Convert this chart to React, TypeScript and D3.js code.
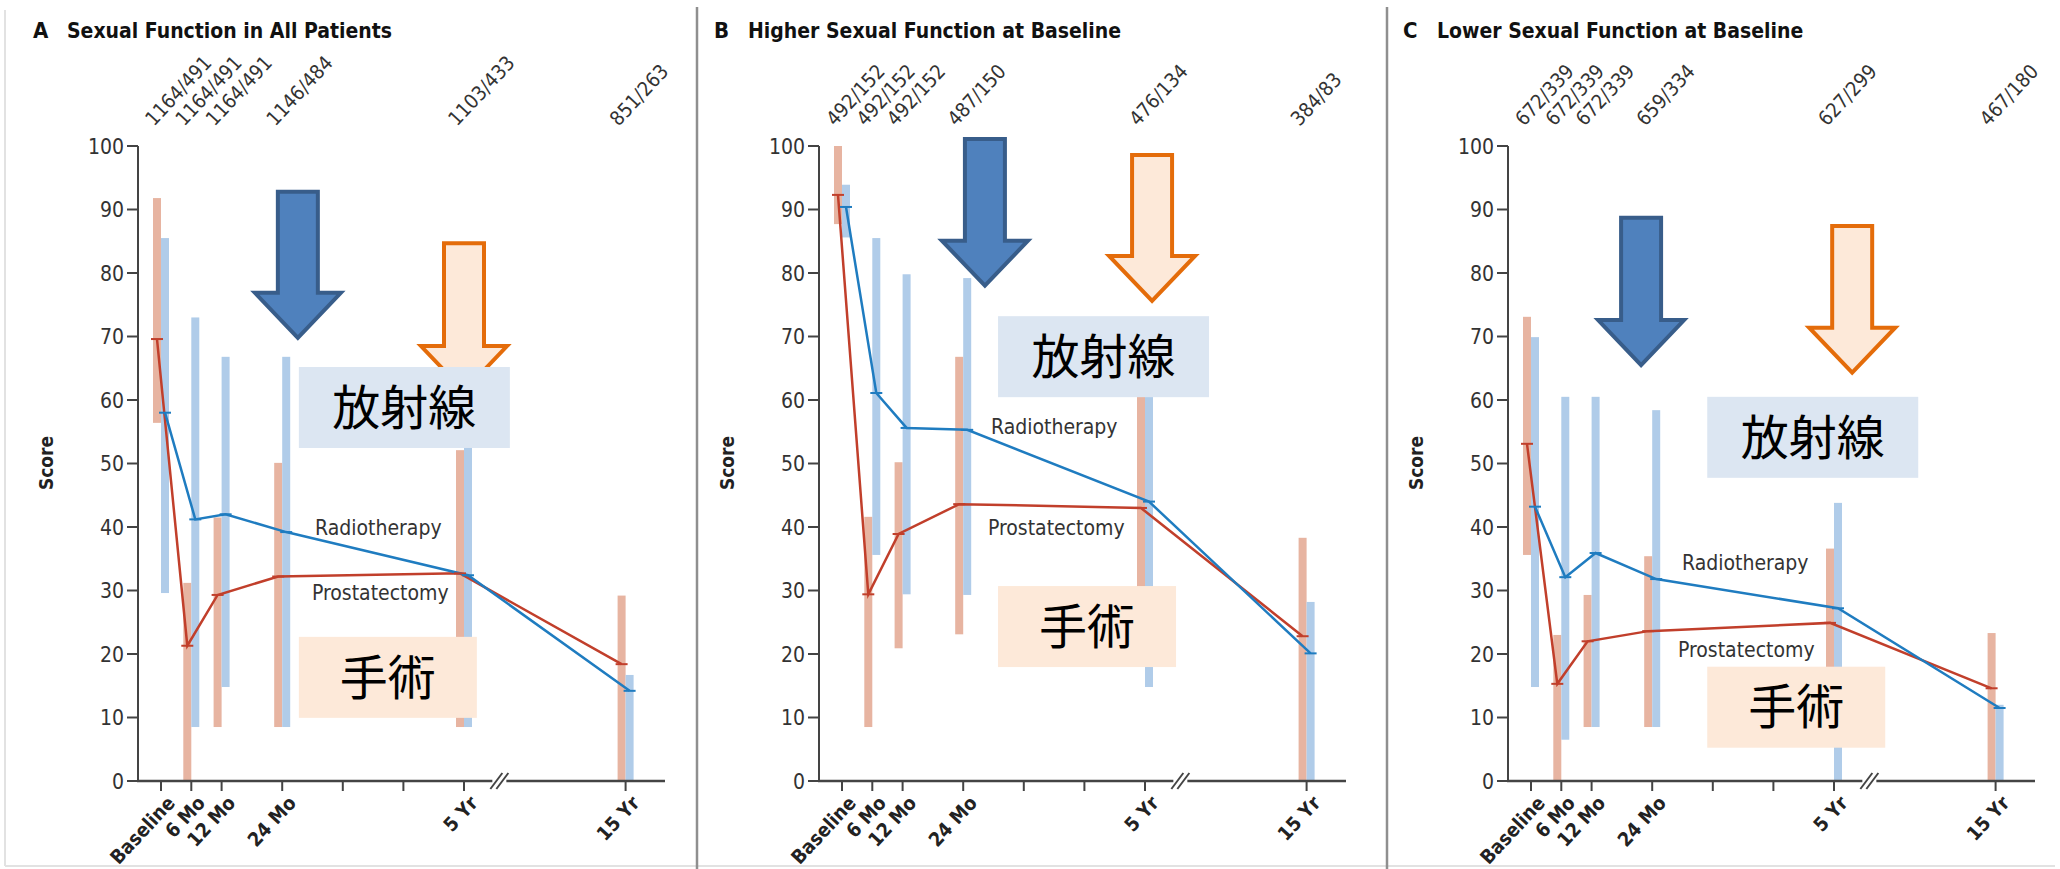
import React from "react";
import * as d3 from "d3";

// ---------- DATA ----------
const panelLetters = ["A", "B", "C"];
const panelTitles = [
  "Sexual Function in All Patients",
  "Higher Sexual Function at Baseline",
  "Lower Sexual Function at Baseline",
];
const timeLabels = ["Baseline", "6 Mo", "12 Mo", "24 Mo", "5 Yr", "15 Yr"];
// months along the drawn axis; 15 Yr sits beyond the axis break
const timePositions = [0, 6, 12, 24, 60, 92];
const minorTickMonths = [36, 48];
const yTicks = [0, 10, 20, 30, 40, 50, 60, 70, 80, 90, 100];

const countsA = ["1164/491", "1164/491", "1164/491", "1146/484", "1103/433", "851/263"];
const countsB = ["492/152", "492/152", "492/152", "487/150", "476/134", "384/83"];
const countsC = ["672/339", "672/339", "672/339", "659/334", "627/299", "467/180"];

const prostMeanA = [69.6, 21.3, 29.3, 32.2, 32.7, 18.4];
const radioMeanA = [58.0, 41.2, 42.0, 39.2, 32.4, 14.2];
const prostLowA = [56.4, 0, 8.5, 8.5, 8.5, 0];
const prostHighA = [91.8, 31.2, 41.5, 50.1, 52.1, 29.2];
const radioLowA = [29.6, 8.5, 14.8, 8.5, 8.5, 0];
const radioHighA = [85.5, 73.0, 66.8, 66.8, 58.0, 16.7];

const prostMeanB = [92.3, 29.4, 38.9, 43.6, 43.0, 22.8];
const radioMeanB = [90.4, 61.1, 55.6, 55.3, 44.0, 20.1];
const prostLowB = [87.7, 8.5, 20.9, 23.1, 22.0, 0];
const prostHighB = [100, 41.6, 50.2, 66.8, 68.0, 38.3];
const radioLowB = [85.6, 35.6, 29.4, 29.3, 14.8, 0];
const radioHighB = [93.9, 85.5, 79.8, 79.2, 70.0, 28.2];

const prostMeanC = [53.1, 15.3, 22.0, 23.6, 24.9, 14.6];
const radioMeanC = [43.2, 32.1, 35.9, 31.8, 27.2, 11.5];
const prostLowC = [35.6, 0, 8.5, 8.5, 8.5, 0];
const prostHighC = [73.1, 23.0, 29.3, 35.4, 36.6, 23.3];
const radioLowC = [14.8, 6.5, 8.5, 8.5, 0, 0];
const radioHighC = [69.9, 60.5, 60.5, 58.4, 43.8, 12.0];

// annotation anchors in data units (month, score)
const blueArrowMonth = [27.1, 28.3, 21.8];
const blueArrowTop = [92.8, 101.1, 88.7];
const blueArrowTip = [69.8, 78.0, 65.5];
const orangeArrowMonth = [60, 61.4, 63.6];
const orangeArrowTop = [84.7, 98.6, 87.4];
const orangeArrowTip = [61.4, 75.6, 64.3];
const radioBoxMonth = [27.3, 30.9, 34.9];
const radioBoxTop = [65.2, 73.2, 60.5];
const surgBoxMonth = [27.3, 30.9, 34.9];
const surgBoxTop = [22.7, 30.7, 18.0];
const radioLabelMonth = [30.5, 29.5, 29.9];
const radioLabelScore = [38.7, 54.6, 33.2];
const prostLabelMonth = [29.9, 28.9, 29.1];
const prostLabelScore = [28.5, 38.7, 19.5];

const radioBoxText = "放射線";
const surgBoxText = "手術";
const radioSeriesName = "Radiotherapy";
const prostSeriesName = "Prostatectomy";

const panels = [
  { counts: countsA, pm: prostMeanA, rm: radioMeanA, pl: prostLowA, ph: prostHighA, rl: radioLowA, rh: radioHighA },
  { counts: countsB, pm: prostMeanB, rm: radioMeanB, pl: prostLowB, ph: prostHighB, rl: radioLowB, rh: radioHighB },
  { counts: countsC, pm: prostMeanC, rm: radioMeanC, pl: prostLowC, ph: prostHighC, rl: radioLowC, rh: radioHighC },
];

// ---------- LAYOUT / STYLE ----------
const W = 2060;
const H = 869;
const axisXs = [138, 819, 1508];
const separatorXs = [697, 1387];
const yTop = 146;
const yBottom = 781;
const font = "'Liberation Sans Narrow', 'DejaVu Sans Condensed', 'Open Sans', sans-serif";
const cjkFont = "'Noto Sans CJK JP', 'Noto Sans CJK SC', sans-serif";
const prostBarColor = "#e7b4a1";
const radioBarColor = "#b0cce9";
const prostLineColor = "#c13f2b";
const radioLineColor = "#1f7cc0";
const axisColor = "#444";
const barW = 8;

function Panel({ i }: { i: number }) {
  const p = panels[i];
  const ax = axisXs[i];
  const x = d3.scaleLinear().domain([0, 60]).range([ax + 23, ax + 23 + 303]);
  const y = d3.scaleLinear().domain([0, 100]).range([yBottom, yTop]);
  const axisEnd = x(99.8);
  const breakX = x(67);

  const prostX = (k: number) => x(timePositions[k]) - barW / 2;
  const radioX = (k: number) => x(timePositions[k]) + barW / 2;

  const lineGen = d3
    .line<[number, number]>()
    .x((d) => d[0])
    .y((d) => d[1]);
  const prostPts: [number, number][] = p.pm.map((v, k) => [prostX(k), y(v)]);
  const radioPts: [number, number][] = p.rm.map((v, k) => [radioX(k), y(v)]);

  const arrowPath = (cx: number, top: number, tip: number) => {
    const sh = 20;
    const wh = 43;
    const headY = tip - 45;
    return `M${cx - sh},${top}L${cx + sh},${top}L${cx + sh},${headY}L${cx + wh},${headY}L${cx},${tip}L${cx - wh},${headY}L${cx - sh},${headY}Z`;
  };

  return (
    <g>
      {/* title */}
      <text x={ax - 105} y={38} fontFamily={font} fontWeight="bold" fontSize={22} fill="#111">
        {panelLetters[i]}
      </text>
      <text x={ax - 71} y={38} fontFamily={font} fontWeight="bold" fontSize={21} fill="#111">
        {panelTitles[i]}
      </text>

      {/* count labels */}
      {p.counts.map((c, k) => (
        <text
          key={"c" + k}
          transform={`translate(${x(timePositions[k]) - 7},${127}) rotate(-47)`}
          fontFamily={font}
          fontSize={20}
          fill="#333"
        >
          {c}
        </text>
      ))}

      {/* bars */}
      {p.pm.map((_, k) => (
        <rect
          key={"pb" + k}
          x={prostX(k) - barW / 2}
          width={barW}
          y={y(p.ph[k])}
          height={y(p.pl[k]) - y(p.ph[k])}
          fill={prostBarColor}
        />
      ))}
      {p.rm.map((_, k) => (
        <rect
          key={"rb" + k}
          x={radioX(k) - barW / 2}
          width={barW}
          y={y(p.rh[k])}
          height={y(p.rl[k]) - y(p.rh[k])}
          fill={radioBarColor}
        />
      ))}

      {/* y axis */}
      <line x1={ax} x2={ax} y1={yTop} y2={yBottom} stroke={axisColor} strokeWidth={2} />
      {yTicks.map((t) => (
        <g key={"yt" + t}>
          <line x1={ax - 11} x2={ax} y1={y(t)} y2={y(t)} stroke={axisColor} strokeWidth={2} />
          <text x={ax - 14} y={y(t)} dy="0.36em" textAnchor="end" fontFamily={font} fontSize={21} fill="#333">
            {t}
          </text>
        </g>
      ))}
      <text
        transform={`translate(${ax - 85},${463}) rotate(-90)`}
        textAnchor="middle"
        fontFamily={font}
        fontWeight="bold"
        fontSize={19}
        fill="#222"
      >
        Score
      </text>

      {/* x axis */}
      <line x1={ax - 1} x2={axisEnd} y1={yBottom} y2={yBottom} stroke={axisColor} strokeWidth={2.5} />
      {timePositions.map((t, k) => (
        <line key={"xt" + k} x1={x(t)} x2={x(t)} y1={yBottom} y2={yBottom + 10} stroke={axisColor} strokeWidth={2} />
      ))}
      {minorTickMonths.map((t) => (
        <line key={"mt" + t} x1={x(t)} x2={x(t)} y1={yBottom} y2={yBottom + 10} stroke={axisColor} strokeWidth={2} />
      ))}
      <rect x={breakX - 7} y={yBottom - 3} width={14} height={6} fill="#fff" />
      {[-3, 3].map((o) => (
        <line
          key={"br" + o}
          x1={breakX + o - 6}
          y1={yBottom + 8}
          x2={breakX + o + 6}
          y2={yBottom - 8}
          stroke={axisColor}
          strokeWidth={2}
        />
      ))}
      {timeLabels.map((l, k) => (
        <text
          key={"xl" + k}
          transform={`translate(${x(timePositions[k]) + 15},${804}) rotate(-47)`}
          textAnchor="end"
          fontFamily={font}
          fontWeight="bold"
          fontSize={19.5}
          fill="#222"
        >
          {l}
        </text>
      ))}

      {/* lines */}
      <path d={lineGen(prostPts) || ""} fill="none" stroke={prostLineColor} strokeWidth={2.5} />
      <path d={lineGen(radioPts) || ""} fill="none" stroke={radioLineColor} strokeWidth={2.5} />
      {prostPts.map((pt, k) => (
        <line key={"pm" + k} x1={pt[0] - 6} x2={pt[0] + 6} y1={pt[1]} y2={pt[1]} stroke={prostLineColor} strokeWidth={2} />
      ))}
      {radioPts.map((pt, k) => (
        <line key={"rm" + k} x1={pt[0] - 6} x2={pt[0] + 6} y1={pt[1]} y2={pt[1]} stroke={radioLineColor} strokeWidth={2} />
      ))}

      {/* series labels */}
      <text x={x(radioLabelMonth[i])} y={y(radioLabelScore[i])} fontFamily={font} fontSize={21} fill="#333">
        {radioSeriesName}
      </text>
      <text x={x(prostLabelMonth[i])} y={y(prostLabelScore[i])} fontFamily={font} fontSize={21} fill="#333">
        {prostSeriesName}
      </text>

      {/* arrows */}
      <path
        d={arrowPath(x(blueArrowMonth[i]), y(blueArrowTop[i]), y(blueArrowTip[i]))}
        fill="#4f81bd"
        stroke="#385d8a"
        strokeWidth={4}
      />
      <path
        d={arrowPath(x(orangeArrowMonth[i]), y(orangeArrowTop[i]), y(orangeArrowTip[i]))}
        fill="#fde9d9"
        stroke="#e46c0a"
        strokeWidth={4}
      />

      {/* label boxes */}
      <rect x={x(radioBoxMonth[i])} y={y(radioBoxTop[i])} width={211} height={81} fill="#dce6f2" />
      <text
        x={x(radioBoxMonth[i]) + 105.5}
        y={y(radioBoxTop[i]) + 40.5}
        dy="0.36em"
        textAnchor="middle"
        fontFamily={cjkFont}
        fontSize={48}
        fill="#000"
      >
        {radioBoxText}
      </text>
      <rect x={x(surgBoxMonth[i])} y={y(surgBoxTop[i])} width={178} height={81} fill="#fde9d9" />
      <text
        x={x(surgBoxMonth[i]) + 89}
        y={y(surgBoxTop[i]) + 40.5}
        dy="0.36em"
        textAnchor="middle"
        fontFamily={cjkFont}
        fontSize={48}
        fill="#000"
      >
        {surgBoxText}
      </text>
    </g>
  );
}

export default function App() {
  return (
    <svg
      width={W}
      height={H}
      viewBox={`0 0 ${W} ${H}`}
      style={{ position: "absolute", left: 0, top: 0, background: "#fff" }}
    >
      <rect x={0} y={0} width={W} height={H} fill="#fff" />
      <line x1={5} x2={5} y1={10} y2={866} stroke="#e2e2e2" strokeWidth={2} />
      <line x1={5} x2={W - 5} y1={866} y2={866} stroke="#e2e2e2" strokeWidth={2} />
      {separatorXs.map((sx) => (
        <line key={sx} x1={sx} x2={sx} y1={7} y2={H} stroke="#8f8f8f" strokeWidth={2.5} />
      ))}
      {[0, 1, 2].map((i) => (
        <Panel key={i} i={i} />
      ))}
    </svg>
  );
}
